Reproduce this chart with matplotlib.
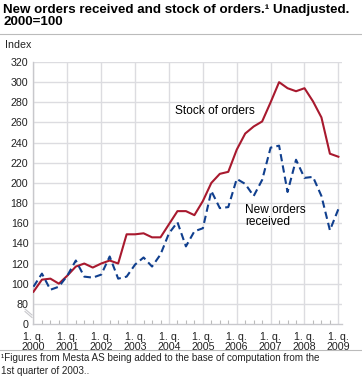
"""
New orders received and stock of orders, quarterly index (2000=100)
"""

# Imports - standard
import numpy as np
import matplotlib.pyplot as plt
from matplotlib.lines import Line2D

# settings - data (quarterly, 1. q. 2000 - 1. q. 2009)
YEARS = [str(y) for y in range(2000, 2010)]
STOCK = [92, 104, 105, 100, 108, 117, 120, 116, 120, 123, 120, 149,
         149, 150, 146, 146, 159, 172, 172, 168, 182, 200, 209, 211,
         233, 249, 256, 261, 280, 300, 294, 291, 294, 281, 265, 229,
         226]
NEW_ORDERS = [97, 110, 94, 97, 108, 123, 107, 106, 109, 127, 105, 107,
              119, 126, 117, 129, 150, 161, 137, 152, 155, 192, 175, 176,
              204, 199, 187, 203, 235, 237, 191, 223, 205, 206, 187, 153,
              174]
Y_TICKS = [60, 80, 100, 120, 140, 160, 180, 200, 220, 240, 260, 280, 300, 320]
Y_LABELS = ['0'] + [str(t) for t in Y_TICKS[1:]]

RED = '#a8192e'
BLUE = '#103f8e'
GRID = '#dcdce0'
FONT = 'Liberation Sans'


def main():

    plt.rcParams['font.family'] = [FONT, 'DejaVu Sans']

    # create figure
    fig = plt.figure(figsize=(3.62, 3.91), dpi=100)
    ax = fig.add_axes([0.0901, 0.1714, 0.854, 0.67])

    # plot series ==============================================================
    quarters = np.arange(len(STOCK))
    ax.plot(quarters, STOCK, color=RED, lw=1.5, zorder=3)
    ax.plot(quarters, NEW_ORDERS, color=BLUE, lw=1.5, ls=(0, (3.5, 2)),
            zorder=3)

    # axes, ticks and grid =====================================================
    ax.set_xlim(-0.1, 36.4)
    ax.set_ylim(60, 320)
    ax.set_yticks(Y_TICKS)
    ax.set_yticklabels(Y_LABELS)
    ax.set_xticks(np.arange(0, 37, 4))
    ax.set_xticklabels([f"1. q.\n{y}" for y in YEARS], linespacing=0.95)
    ax.set_xticks(quarters, minor=True)
    ax.tick_params(axis='both', which='major', length=0, labelsize=7.7,
                   colors='#222222', pad=3)
    ax.tick_params(axis='x', which='major', pad=6)
    ax.tick_params(axis='x', which='minor', direction='in', length=3,
                   color='#bbbbbb', width=0.8)

    for t in Y_TICKS[1:]:
        ax.axhline(t, color=GRID, lw=1, zorder=1)
    for x in np.arange(0, 37, 4):
        ax.axvline(x, color=GRID, lw=1, zorder=1)

    for side in ['top', 'right']:
        ax.spines[side].set_visible(False)
    for side in ['left', 'bottom']:
        ax.spines[side].set_color('#c8c8cc')
        ax.spines[side].set_linewidth(1)

    # axis break marker
    for dy in [0, 2.5]:
        fig.add_artist(Line2D([25 / 362, 32 / 362],
                              [1 - (309 + dy) / 391, 1 - (315 + dy) / 391],
                              color='#c8c8cc', lw=0.8))

    # labels ===================================================================
    ax.text(16.7, 271, 'Stock of orders', fontsize=8.6, va='center',
            ha='left')
    ax.text(25.0, 167, 'New orders\nreceived', fontsize=8.6, va='center',
            ha='left', linespacing=0.95)

    fig.text(5 / 362, 1 - 45 / 391, 'Index', fontsize=7.7, va='center',
             color='#222222')
    fig.text(3 / 362, 1 - 3.5 / 391,
             'New orders received and stock of orders.¹ Unadjusted.\n'
             '2000=100', fontsize=9.6, fontweight='bold', va='top',
             linespacing=1.1)
    fig.add_artist(Line2D([0, 1], [1 - 33.5 / 391] * 2, color='#bbbbbb',
                          lw=0.8))

    # footnote
    fig.add_artist(Line2D([0, 1], [1 - 349.5 / 391] * 2, color='#bbbbbb',
                          lw=0.8))
    fig.text(1 / 362, 1 - 364.5 / 391,
             '¹Figures from Mesta AS being added to the base of '
             'computation from the\n1st quarter of 2003..',
             fontsize=7.1, va='center', linespacing=1.3, color='#222222')

    # save figure
    fig.savefig("out.png", dpi=100)


if __name__ == "__main__":
    main()
